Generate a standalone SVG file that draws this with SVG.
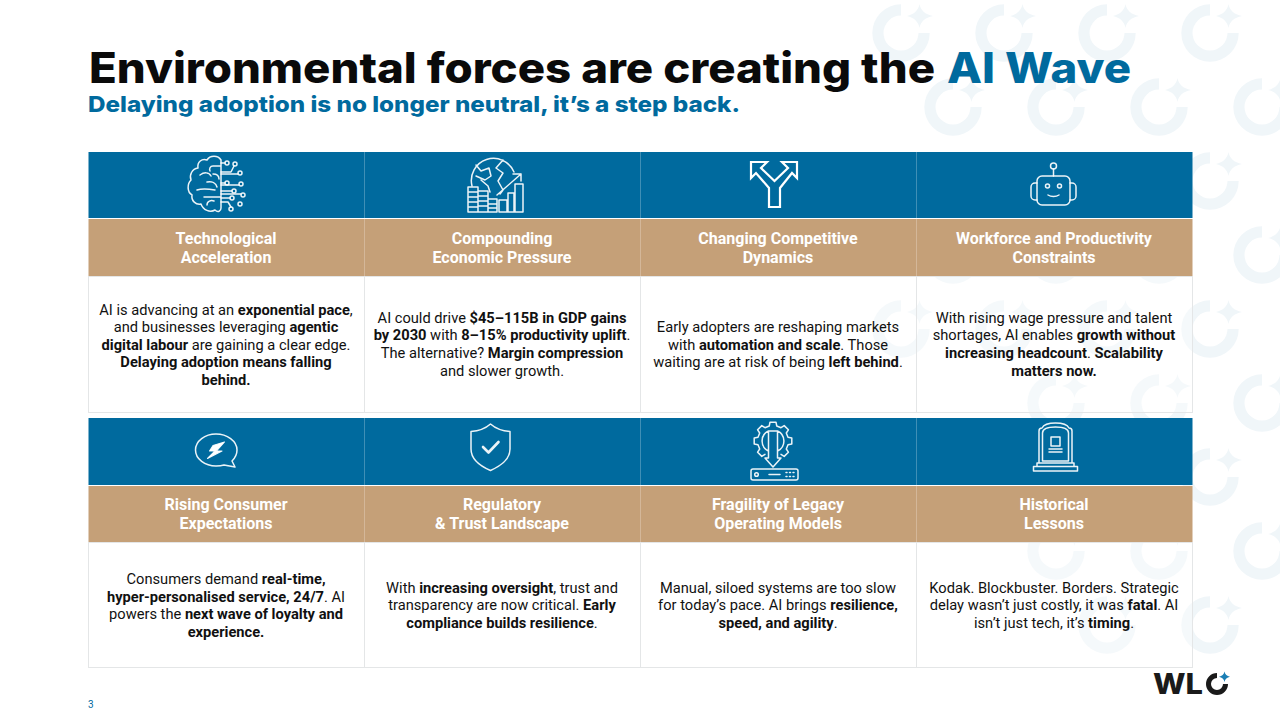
<svg xmlns="http://www.w3.org/2000/svg" xmlns:xlink="http://www.w3.org/1999/xlink" width="1280" height="720" viewBox="0 0 1280 720">
<style>
text{font-family:Roboto,"Liberation Sans",sans-serif}
.b{font-size:14.67px;fill:#111;text-anchor:middle}
.b tspan.s{font-weight:700}
.h{font-size:16px;font-weight:700;fill:#fff;text-anchor:middle}
.blue{fill:#006a9e}
.tan{fill:#c5a078}
.body{fill:#fff;fill-opacity:.35;stroke:#e4e6e7;stroke-width:1}
.t{font-family:Inter,"Liberation Sans",sans-serif;font-weight:800}
.i{fill:none;stroke:#fff;stroke-width:1.5;stroke-linecap:round;stroke-linejoin:round;stroke-opacity:.92}
</style>
<defs>
<g id="m">
<path d="M0-28.700A28.700 28.700 0 1 0 28.700 0H17.500A17.500 17.500 0 1 1 0-17.500Z" fill="#f0f6f9"/>
<path d="M18.500-29C19.500-23 24-18.500 32-17C24-15.500 19.500-11 18.500-5C17.500-11 13-15.500 6-17C13-18.500 17.500-23 18.500-29Z" fill="#f0f6f9"/>
</g>
</defs>
<g id="pattern">
<use xlink:href="#m" x="901" y="33"/><use xlink:href="#m" x="1004" y="33"/><use xlink:href="#m" x="1107" y="33"/><use xlink:href="#m" x="1210" y="33"/>
<use xlink:href="#m" x="953" y="107"/><use xlink:href="#m" x="1056" y="107"/><use xlink:href="#m" x="1159" y="107"/><use xlink:href="#m" x="1262" y="107"/>
<use xlink:href="#m" x="1210" y="181"/><use xlink:href="#m" x="1262" y="255"/><use xlink:href="#m" x="1210" y="329"/><use xlink:href="#m" x="1262" y="403"/><use xlink:href="#m" x="1210" y="477"/><use xlink:href="#m" x="1262" y="551"/><use xlink:href="#m" x="1210" y="625"/>
<use xlink:href="#m" x="901" y="329"/><use xlink:href="#m" x="1004" y="329"/><use xlink:href="#m" x="1107" y="329"/>
<use xlink:href="#m" x="953" y="255"/><use xlink:href="#m" x="1056" y="255"/><use xlink:href="#m" x="1159" y="255"/>
<use xlink:href="#m" x="1056" y="403"/><use xlink:href="#m" x="1159" y="403"/>
<use xlink:href="#m" x="1056" y="551"/><use xlink:href="#m" x="1159" y="551"/>
<use xlink:href="#m" x="1107" y="625"/>
</g>
<g id="title">
<text class="t" x="89" y="83" font-size="42" fill="#0a0a0a" textLength="846" lengthAdjust="spacingAndGlyphs">Environmental forces are creating the</text>
<text class="t" x="947" y="83" font-size="42" fill="#006a9e" textLength="184" lengthAdjust="spacingAndGlyphs">AI Wave</text>
<text class="t" x="88" y="112" font-size="22" fill="#006a9e" textLength="652" lengthAdjust="spacingAndGlyphs">Delaying adoption is no longer neutral, it’s a step back.</text>
</g>
<g id="cell1">
<rect class="blue" x="88.500" y="152" width="276" height="66"/><rect class="tan" x="88.500" y="219" width="276" height="57"/><rect class="body" x="88.500" y="276.500" width="276" height="136"/>
<text class="h"><tspan x="226" y="243.500">Technological</tspan><tspan x="226" y="262.500">Acceleration</tspan></text>
<text class="b"><tspan x="226" y="315">AI is advancing at an <tspan class="s">exponential pace</tspan>,</tspan><tspan x="226" y="332">and businesses leveraging <tspan class="s">agentic</tspan></tspan><tspan x="226" y="350"><tspan class="s">digital labour</tspan> are gaining a clear edge.</tspan><tspan x="226" y="367"><tspan class="s">Delaying adoption means falling</tspan></tspan><tspan x="226" y="385"><tspan class="s">behind.</tspan></tspan></text>
<g class="i"><path d="M221 160C218 155 210 155 207 160C202 158 197 162 198 168C192 169 189 175 191 180C187 184 187 192 192 195C191 201 196 205 201 204C203 210 210 213 215 210C218 213 221 211 221 208V160ZM221 166H213C210 166 209 169 210 171M200 175C204 172 209 172 211 176M207 182C212 181 216 183 217 187M197 190C203 188 209 189 215 190M204 197H221M207 205C207 201 211 200 214 201M213 174C217 174 219 176 219 179"/><path d="M221 163H225M221 172H231L234 166M221 183H225M221 174H238M221 191H232M221 198H230M221 185H239M221 202H228L231 207M221 194H241"/><circle cx="227" cy="163" r="2"/><circle cx="235" cy="164" r="2"/><circle cx="240" cy="173" r="2"/><circle cx="227" cy="183" r="2"/><circle cx="241" cy="184" r="2"/><circle cx="234" cy="191" r="2"/><circle cx="243" cy="195" r="2"/><circle cx="232" cy="198" r="2"/><circle cx="240" cy="204" r="2"/><circle cx="231" cy="209" r="2"/></g>
</g>
<g id="cell2">
<rect class="blue" x="364.500" y="152" width="276" height="66"/><rect class="tan" x="364.500" y="219" width="276" height="57"/><rect class="body" x="364.500" y="276.500" width="276" height="136"/>
<text class="h"><tspan x="502" y="243.500">Compounding</tspan><tspan x="502" y="262.500">Economic Pressure</tspan></text>
<text class="b"><tspan x="502" y="323">AI could drive <tspan class="s">$45–115B in GDP gains</tspan></tspan><tspan x="502" y="340"><tspan class="s">by 2030</tspan> with <tspan class="s">8–15% productivity uplift</tspan>.</tspan><tspan x="502" y="358">The alternative? <tspan class="s">Margin compression</tspan></tspan><tspan x="502" y="376">and slower growth.</tspan></text>
<g class="i" stroke-width="1.300"><path d="M472 186A22.200 22.200 0 0 1 514 172M476 165L481 171 489 168 491 176 485 180 476 176M503 160L496 168 503 173 498 181 503 190 500 194M481 180L488 186 490 192M497 195L521 174M513 174H521V181"/><path d="M468 187H478V212H468ZM468 192H478M468 197H478M468 202H478M468 207H478M478 191H488V212H478ZM478 196H488M478 201H488M478 206H488M488 199H497V212H488ZM488 204H497M488 208H497M499 200H507V212H499ZM508 193H514V212H508ZM515 184H523V212H515Z"/></g>
</g>
<g id="cell3">
<rect class="blue" x="640.500" y="152" width="276" height="66"/><rect class="tan" x="640.500" y="219" width="276" height="57"/><rect class="body" x="640.500" y="276.500" width="276" height="136"/>
<text class="h"><tspan x="778" y="243.500">Changing Competitive</tspan><tspan x="778" y="262.500">Dynamics</tspan></text>
<text class="b"><tspan x="778" y="332">Early adopters are reshaping markets</tspan><tspan x="778" y="350">with <tspan class="s">automation and scale</tspan>. Those</tspan><tspan x="778" y="367">waiting are at risk of being <tspan class="s">left behind</tspan>.</tspan></text>
<path fill="none" stroke="#fff" stroke-width="2.200" stroke-linejoin="miter" d="M751 162H767L761 168 774.500 181 788 168 782 162H797V178L792 173 780 188V207H769V188L756 173 751 178Z"/>
</g>
<g id="cell4">
<rect class="blue" x="916.500" y="152" width="276" height="66"/><rect class="tan" x="916.500" y="219" width="276" height="57"/><rect class="body" x="916.500" y="276.500" width="276" height="136"/>
<text class="h"><tspan x="1054" y="243.500">Workforce and Productivity</tspan><tspan x="1054" y="262.500">Constraints</tspan></text>
<text class="b"><tspan x="1054" y="323">With rising wage pressure and talent</tspan><tspan x="1054" y="340">shortages, AI enables <tspan class="s">growth without</tspan></tspan><tspan x="1054" y="358"><tspan class="s">increasing headcount</tspan>. <tspan class="s">Scalability</tspan></tspan><tspan x="1054" y="376"><tspan class="s">matters now.</tspan></tspan></text>
<g class="i"><circle cx="1053.500" cy="166" r="3"/><path d="M1053.500 169V176"/><rect x="1037" y="176" width="33" height="29" rx="5"/><path d="M1037 183H1035A4 4 0 0 0 1031 187V196A4 4 0 0 0 1035 200H1037M1070 183H1072A4 4 0 0 1 1076 187V196A4 4 0 0 1 1072 200H1070M1048 195C1051 197 1056 197 1059 195"/><circle cx="1047.500" cy="186" r="2"/><circle cx="1059.500" cy="186" r="2"/></g>
</g>
<g id="cell5">
<rect class="blue" x="88.500" y="418" width="276" height="67"/><rect class="tan" x="88.500" y="486" width="276" height="56.500"/><rect class="body" x="88.500" y="542.500" width="276" height="125"/>
<text class="h"><tspan x="226" y="510.200">Rising Consumer</tspan><tspan x="226" y="529.200">Expectations</tspan></text>
<text class="b"><tspan x="226" y="584">Consumers demand <tspan class="s">real-time,</tspan></tspan><tspan x="226" y="602"><tspan class="s">hyper-personalised service, 24/7</tspan>. AI</tspan><tspan x="226" y="619">powers the <tspan class="s">next wave of loyalty and</tspan></tspan><tspan x="226" y="637"><tspan class="s">experience.</tspan></tspan></text>
<g class="i"><path d="M216 434C205 434 195.500 441 195.500 450S205 466 216 466C219 466 221 466 224 465L235 467 232 461C235 458 237 454 237 450 237 441 227 434 216 434Z"/><path d="M224.500 442L213 445.500 209.500 451H215L207.500 458.500 222 451H216.500Z" stroke-width="1.100" fill="#fff"/></g>
</g>
<g id="cell6">
<rect class="blue" x="364.500" y="418" width="276" height="67"/><rect class="tan" x="364.500" y="486" width="276" height="56.500"/><rect class="body" x="364.500" y="542.500" width="276" height="125"/>
<text class="h"><tspan x="502" y="510.200">Regulatory</tspan><tspan x="502" y="529.200">&amp; Trust Landscape</tspan></text>
<text class="b"><tspan x="502" y="593">With <tspan class="s">increasing oversight</tspan>, trust and</tspan><tspan x="502" y="610">transparency are now critical. <tspan class="s">Early</tspan></tspan><tspan x="502" y="628"><tspan class="s">compliance builds resilience</tspan>.</tspan></text>
<g class="i" stroke-width="2.200"><path d="M490.500 424C486 428 478 431 471 431.500V449C471 459 480 466 490.500 470.500 501 466 510 459 510 449V431.500C503 431 495 428 490.500 424Z"/><path d="M483 447L488.500 452.500 498.500 442" stroke-width="2.600"/></g>
</g>
<g id="cell7">
<rect class="blue" x="640.500" y="418" width="276" height="67"/><rect class="tan" x="640.500" y="486" width="276" height="56.500"/><rect class="body" x="640.500" y="542.500" width="276" height="125"/>
<text class="h"><tspan x="778" y="510.200">Fragility of Legacy</tspan><tspan x="778" y="529.200">Operating Models</tspan></text>
<text class="b"><tspan x="778" y="593">Manual, siloed systems are too slow</tspan><tspan x="778" y="610">for today’s pace. AI brings <tspan class="s">resilience,</tspan></tspan><tspan x="778" y="628"><tspan class="s">speed, and agility</tspan>.</tspan></text>
<g class="i" stroke-width="1.200"><g transform="translate(773 441)"><path d="M-8 13.300L-11.200 15.400-15.400 11.200-13.300 8-15 3.750-18.800 3-18.800-3-15-3.750-13.300-8-15.400-11.200-11.200-15.400-8-13.300-3.750-15-3-18.800 3-18.800 3.750-15 8-13.300 11.200-15.400 15.400-11.200 13.300-8 15-3.750 18.800-3 18.800 3 15 3.750 13.300 8 15.400 11.200 11.200 15.400 8 13.300"/><path d="M-4.500-10A11 11 0 0 0-4.500 10M4.500-10A11 11 0 0 1 4.500 10M-4.500-10H4.500V17H8L0 26-8 17H-4.500Z"/></g><rect x="751" y="469" width="47" height="11" rx="2"/><circle cx="756.500" cy="474.500" r="1.800"/><path d="M769 474.500H780"/><path d="M786 472.500H795M786 476.500H795" stroke-dasharray="1 2.500"/></g>
</g>
<g id="cell8">
<rect class="blue" x="916.500" y="418" width="276" height="67"/><rect class="tan" x="916.500" y="486" width="276" height="56.500"/><rect class="body" x="916.500" y="542.500" width="276" height="125"/>
<text class="h"><tspan x="1054" y="510.200">Historical</tspan><tspan x="1054" y="529.200">Lessons</tspan></text>
<text class="b"><tspan x="1054" y="593">Kodak. Blockbuster. Borders. Strategic</tspan><tspan x="1054" y="610">delay wasn’t just costly, it was <tspan class="s">fatal</tspan>. AI</tspan><tspan x="1054" y="628">isn’t just tech, it’s <tspan class="s">timing</tspan>.</tspan></text>
<g class="i" stroke-width="1.100"><path d="M1039 463V431C1039 429 1040 428 1042 428 1044 424 1050 423 1055.500 423S1067 424 1069 428C1071 428 1072 429 1072 431V463M1042.500 461V433C1042.500 429 1048 427 1055.500 427S1068.500 429 1068.500 433V461ZM1037 463H1074V466.500H1037ZM1033.500 466.500H1077.500V471H1033.500Z"/><rect x="1051" y="437" width="9" height="9"/><path d="M1049 449H1062M1049 452H1062"/></g>
</g>
<g id="footer">
<text x="88" y="708" font-size="10" fill="#006a9e">3</text>
<g id="logo"><text x="1153" y="694" font-size="29" font-weight="800" fill="#1a1a1a" style="font-family:Inter,Roboto,sans-serif" textLength="50" lengthAdjust="spacingAndGlyphs">WL</text>
<path d="M1217 673A11 11 0 1 0 1228 684H1223A6 6 0 1 1 1217 678Z" fill="#1a1a1a"/><path d="M1224.500 671.500C1225 674.500 1227 676 1230 676.700C1227 677.500 1225 679 1224.500 682C1224 679 1222 677.500 1219 676.700C1222 676 1224 674.500 1224.500 671.500Z" fill="#1b7fb5"/></g>
</g>
</svg>
